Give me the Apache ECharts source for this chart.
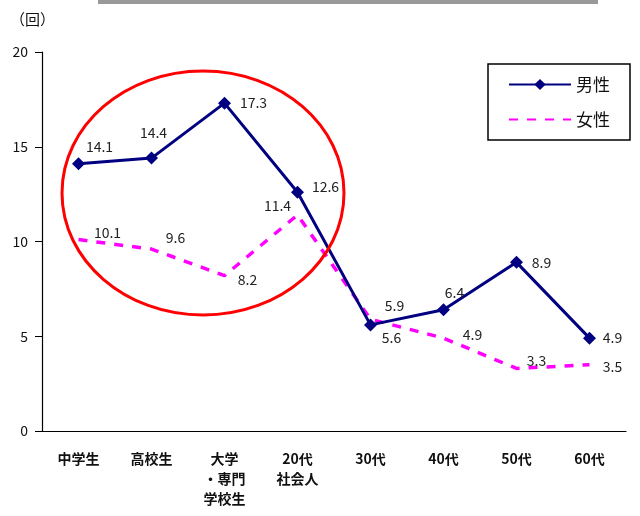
<!DOCTYPE html>
<html><head><meta charset="utf-8">
<script src="https://cdn.jsdelivr.net/npm/echarts@6/dist/echarts.min.js"></script>
<style>html,body{margin:0;padding:0;background:#fff}#c{width:640px;height:516px}</style>
</head><body><div id="c"></div>
<script>
const categories = ['中学生', '高校生', '大学\n・専門\n学校生', '20代\n社会人', '30代', '40代', '50代', '60代'];
const maleValues = [14.1, 14.4, 17.3, 12.6, 5.6, 6.4, 8.9, 4.9];
const femaleValues = [10.1, 9.6, 8.2, 11.4, 5.9, 4.9, 3.3, 3.5];
const yTicks = [0, 5, 10, 15, 20];

// label placement (styling only)
const maleLabelOffsets = [[21,-17],[2,-25],[29,0],[28,-6],[21,13],[11,-17],[25,0],[23,0]];
const femaleLabelOffsets = [[29,-7],[24,-11],[23,4],[-20,-9],[24,-14],[29,-3],[20,-8],[23,2]];

const font = '"Noto Sans CJK JP", "Noto Sans", sans-serif';
function mk(vals, offs){
  return vals.map((v,i)=>({value:v, label:{offset:offs[i]}}));
}
const chart = echarts.init(document.getElementById('c'));
chart.setOption({
  animation:false,
  textStyle:{fontFamily:font},
  grid:{left:42, right:14, top:52, bottom:85},
  graphic:[
    {type:'line', shape:{x1:98,y1:2,x2:598,y2:2}, style:{stroke:'#999',lineWidth:4}},
    {type:'text', left:10, top:12, style:{text:'（回）', fontSize:15, fill:'#111', fontFamily:font}},
    {type:'ellipse', shape:{cx:203, cy:193, rx:141, ry:122}, style:{fill:'none', stroke:'#ff0000', lineWidth:3}, z:10}
  ],
  legend:{
    orient:'vertical', left:488, top:64, itemWidth:62, itemHeight:14, itemGap:18,
    padding:[12,20,12,20], borderColor:'#000', borderWidth:1.5,
    textStyle:{fontSize:17, color:'#111', fontFamily:font},
    data:['男性','女性']
  },
  xAxis:{
    type:'category', data:categories, boundaryGap:true,
    axisLine:{lineStyle:{color:'#000', width:1.2}},
    axisTick:{inside:true, length:6, lineStyle:{color:'#000'}},
    axisLabel:{fontSize:14, color:'#111', lineHeight:20, margin:18, interval:0, fontWeight:'bold'}
  },
  yAxis:{
    type:'value', min:0, max:20, interval:5,
    axisLine:{show:true, lineStyle:{color:'#000', width:1.2}},
    axisTick:{show:true, length:7, lineStyle:{color:'#000'}},
    splitLine:{show:false},
    axisLabel:{fontSize:14, color:'#111', margin:14, formatter:v=>yTicks.includes(v)?String(v):''}
  },
  series:[
    {name:'男性', type:'line', data:mk(maleValues, maleLabelOffsets),
     symbol:'diamond', symbolSize:13, lineStyle:{color:'#000080', width:3}, itemStyle:{color:'#000080'},
     label:{show:true, position:'inside', fontSize:14, color:'#222'}, z:5},
    {name:'女性', type:'line', data:mk(femaleValues, femaleLabelOffsets),
     symbol:'circle', symbolSize:1, showSymbol:true, lineStyle:{color:'#ff00ff', width:3.5, type:[9,9]},
     itemStyle:{color:'rgba(255,0,255,0)', borderWidth:0},
     label:{show:true, position:'inside', fontSize:14, color:'#222'}, z:4}
  ]
});
</script></body></html>
